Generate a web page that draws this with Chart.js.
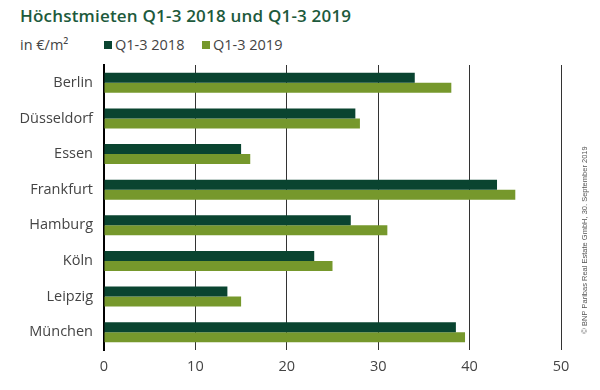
<!DOCTYPE html>
<html>
<head>
<meta charset="utf-8">
<script src="https://cdn.jsdelivr.net/npm/chart.js@4"></script>
<style>
  html,body{margin:0;padding:0;background:#fff;}
  #wrap{position:relative;width:600px;height:390px;font-family:'Open Sans',sans-serif;}
  #title{position:absolute;left:20px;top:4px;font-size:17px;font-weight:600;color:#1d5a3c;letter-spacing:0.2px;white-space:nowrap;}
  #sub{position:absolute;left:20px;top:35px;font-size:14.5px;color:#444;white-space:nowrap;}
  .lg{position:absolute;top:35px;font-size:14.5px;color:#444;white-space:nowrap;}
  .lg i{display:inline-block;width:8px;height:8px;margin-right:3px;vertical-align:1px;}
  canvas{position:absolute;left:0;top:0;}
</style>
</head>
<body>
<div id="wrap">
  <div id="title">Höchstmieten Q1-3 2018 und Q1-3 2019</div>
  <div id="sub">in €/m²</div>
  <div class="lg" style="left:104px"><i style="background:#0a4430"></i>Q1-3 2018</div>
  <div class="lg" style="left:202px"><i style="background:#76982c"></i>Q1-3 2019</div>
  <canvas id="c" width="600" height="390"></canvas>
</div>
<script>
// Höchstmieten nach Stadt, €/m²
const cities = ['Berlin','Düsseldorf','Essen','Frankfurt','Hamburg','Köln','Leipzig','München'];
const rent2018 = [34,27.5,15,43,27,23,13.5,38.5];
const rent2019 = [38,28,16,45,31,25,15,39.5];
const xTicks = [0,10,20,30,40,50];

const copyright = {
  id:'copyright',
  afterDraw(chart){
    const ctx = chart.ctx;
    ctx.save();
    ctx.translate(585, 240);
    ctx.rotate(-Math.PI/2);
    ctx.font = '7.5px "Liberation Sans", sans-serif';
    ctx.fillStyle = '#555';
    ctx.textAlign = 'center';
    ctx.textBaseline = 'middle';
    ctx.fillText('© BNP Paribas Real Estate GmbH, 30. September 2019', 0, 0);
    ctx.restore();
  }
};

new Chart(document.getElementById('c').getContext('2d'),{
  type:'bar',
  data:{
    labels:cities,
    datasets:[
      {label:'Q1-3 2018',data:rent2018,backgroundColor:'#0a4430'},
      {label:'Q1-3 2019',data:rent2019,backgroundColor:'#76982c'},
    ]
  },
  options:{
    indexAxis:'y',
    responsive:false,animation:false,
    layout:{padding:{top:65,right:39,bottom:0,left:0}},
    plugins:{legend:{display:false},tooltip:{enabled:false}},
    datasets:{bar:{categoryPercentage:0.56,barPercentage:1}},
    scales:{
      x:{
        min:0,max:50,
        afterBuildTicks:s=>{ s.ticks = xTicks.map(v=>({value:v})); },
        afterFit:s=>{ s.height = 40; },
        grid:{color:'#333',lineWidth:1,drawTicks:false},
        border:{display:false},
        ticks:{font:{family:'Open Sans',size:14.5},color:'#444',padding:8}
      },
      y:{
        afterFit:s=>{ s.width = 104; },
        grid:{display:false,drawTicks:false},
        border:{display:true,color:'#000',width:2},
        ticks:{font:{family:'Open Sans',size:14.5},color:'#444',padding:11}
      }
    }
  },
  plugins:[copyright]
});
</script>
</body>
</html>
